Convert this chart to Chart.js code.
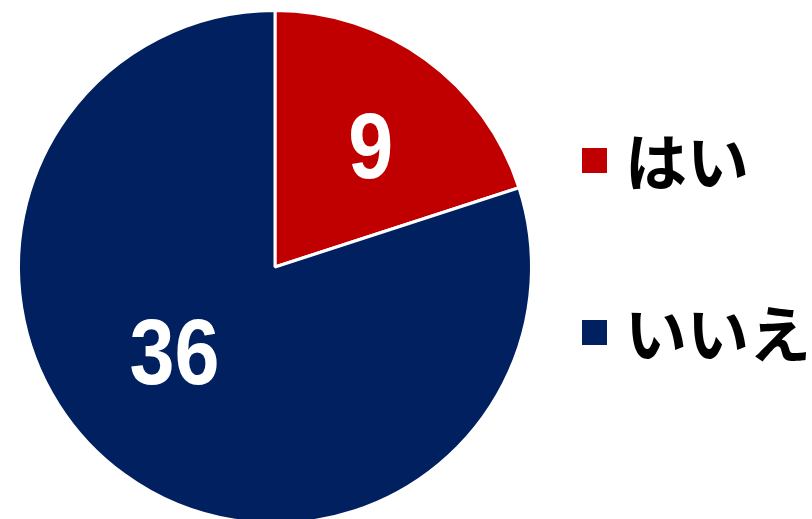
<!DOCTYPE html>
<html>
<head>
<meta charset="utf-8">
<script src="https://cdn.jsdelivr.net/npm/chart.js@4.4.1/dist/chart.umd.min.js"></script>
<style>
  html, body { margin: 0; padding: 0; background: #ffffff; overflow: hidden; }
  #wrap { position: relative; width: 812px; height: 540px; }
</style>
</head>
<body>
<div id="wrap"><canvas id="chart"></canvas></div>
<script>
// Survey answers: yes / no counts
const categories = ['はい', 'いいえ'];
const counts = [9, 36];
const sliceColors = ['#C00000', '#002060'];

// Value labels placed inside each slice (offset from centre as a fraction of the radius)
const labelOffsets = [[0.373, -0.459], [-0.392, 0.345]];
// Legend row centres (y) and left x of the swatches
const legendRows = [160, 332];
const legendX = 582;

const valueLabels = {
  id: 'valueLabels',
  afterDatasetsDraw(chart) {
    const meta = chart.getDatasetMeta(0);
    const ctx = chart.ctx;
    ctx.save();
    ctx.fillStyle = '#ffffff';
    ctx.font = 'bold 92px "Liberation Sans", Arial, sans-serif';
    ctx.textAlign = 'center';
    ctx.textBaseline = 'middle';
    meta.data.forEach((arc, i) => {
      const r = arc.outerRadius;
      const x = arc.x + labelOffsets[i][0] * r;
      const y = arc.y + labelOffsets[i][1] * r;
      ctx.save();
      ctx.translate(x, y);
      ctx.scale(0.88, 1);
      ctx.fillText(String(chart.data.datasets[0].data[i]), 0, 3);
      ctx.restore();
    });
    ctx.restore();
  }
};

const sideLegend = {
  id: 'sideLegend',
  afterDraw(chart) {
    const ctx = chart.ctx;
    ctx.save();
    ctx.textAlign = 'left';
    ctx.textBaseline = 'middle';
    ctx.font = 'bold 62px "Noto Sans CJK JP", sans-serif';
    chart.data.labels.forEach((label, i) => {
      const cy = legendRows[i];
      ctx.fillStyle = sliceColors[i];
      ctx.fillRect(legendX, cy - 12, 25, 25);
      ctx.fillStyle = '#000000';
      ctx.fillText(label, 625, cy + 2);
    });
    ctx.restore();
  }
};

new Chart(document.getElementById('chart'), {
  type: 'pie',
  data: {
    labels: categories,
    datasets: [{
      data: counts,
      backgroundColor: sliceColors,
      borderColor: '#ffffff',
      borderWidth: 3
    }]
  },
  options: {
    responsive: true,
    maintainAspectRatio: false,
    animation: false,
    layout: { padding: { left: 17, top: 9, right: 279, bottom: 15 } },
    plugins: {
      legend: { display: false },
      tooltip: { enabled: false }
    }
  },
  plugins: [valueLabels, sideLegend]
});
</script>
</body>
</html>
